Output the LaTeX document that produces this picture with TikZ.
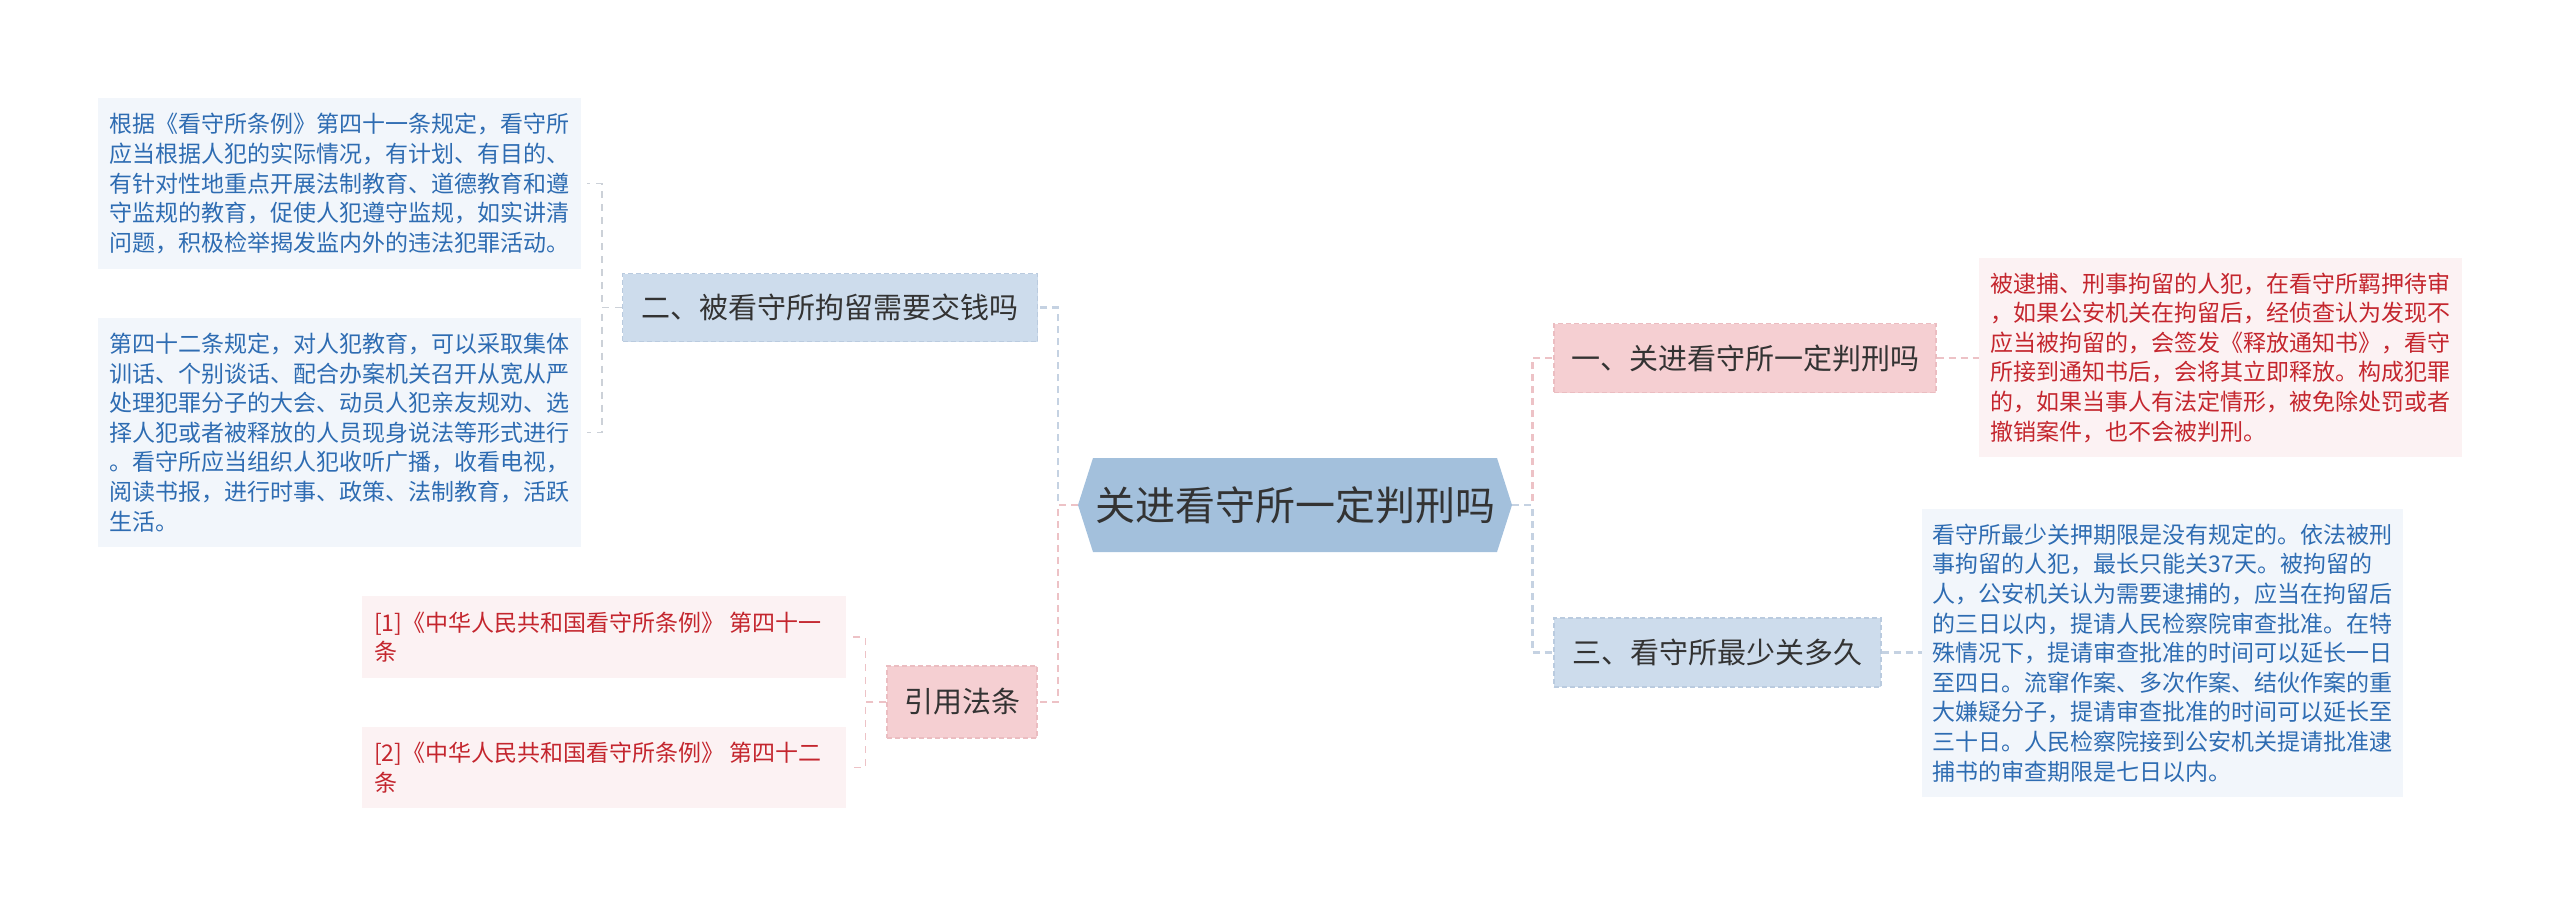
\documentclass[tikz,border=0pt]{standalone}
\usepackage{fontspec}
\setmainfont{Noto Sans CJK SC}
\definecolor{hexfill}{HTML}{A3C0DC}
\definecolor{bluefill}{HTML}{CDDCEC}
\definecolor{blueedge}{HTML}{BACBDF}
\definecolor{pinkfill}{HTML}{F5CFD2}
\definecolor{pinkedge}{HTML}{EBBDC1}
\definecolor{lbluefill}{HTML}{F2F6FB}
\definecolor{lpinkfill}{HTML}{FCF2F3}
\definecolor{bluetext}{HTML}{2E6CB2}
\definecolor{redtext}{HTML}{C4262E}
\definecolor{darktext}{HTML}{333333}
\definecolor{bluelink}{HTML}{C5D2E2}
\definecolor{pinklink}{HTML}{EDC2C6}
\definecolor{greylink}{HTML}{CCD1D8}
\tikzset{
  topic/.style={draw, dashed, dash pattern=on 5pt off 3pt, line width=1.2pt, inner sep=0pt, text=darktext, font=\fontsize{29}{34}\selectfont},
  bluetopic/.style={topic, fill=bluefill, draw=blueedge},
  pinktopic/.style={topic, fill=pinkfill, draw=pinkedge},
  leaf/.style={inner sep=0pt, align=left, font=\fontsize{23}{29.6}\selectfont},
  blueleaf/.style={leaf, fill=lbluefill, text=bluetext},
  pinkleaf/.style={leaf, fill=lpinkfill, text=redtext},
  link/.style={line width=2.6pt, dash pattern=on 7pt off 5pt},
  bluelinkst/.style={link, draw=bluelink},
  pinklinkst/.style={link, draw=pinklink},
  leaflink/.style={line width=1.6pt, dash pattern=on 7pt off 6pt},
  greylinkst/.style={leaflink, draw=greylink},
  pinkleaflinkst/.style={leaflink, draw=pinklink}
}
\begin{document}
\begin{tikzpicture}[x=1pt,y=-1pt]
\useasboundingbox (0,0) rectangle (2560,908);
% central hexagon
\fill[hexfill] (1078,505) -- (1093,458) -- (1497,458) -- (1512,505) -- (1497,552) -- (1093,552) -- cycle;
\node[minimum width=434pt, minimum height=94pt, inner sep=0pt, text=darktext, font=\fontsize{40}{46}\selectfont] (c) at (1295,505) {关进看守所一定判刑吗};

% level-1 topics
\node[bluetopic, minimum width=415pt, minimum height=68pt] (n2) at (830,307.5) {二、被看守所拘留需要交钱吗};
\node[pinktopic, minimum width=150pt, minimum height=72pt] (ref) at (962,702) {引用法条};
\node[pinktopic, minimum width=382pt, minimum height=69pt] (n1) at (1745,358) {一、关进看守所一定判刑吗};
\node[bluetopic, minimum width=327pt, minimum height=69pt] (n3) at (1717.5,652.5) {三、看守所最少关多久};

% leaves
\node[blueleaf, minimum width=483pt, minimum height=171pt] (l1) at (339.5,183.5) {根据《看守所条例》第四十一条规定，看守所\\应当根据人犯的实际情况，有计划、有目的、\\有针对性地重点开展法制教育、道德教育和遵\\守监规的教育，促使人犯遵守监规，如实讲清\\问题，积极检举揭发监内外的违法犯罪活动。};
\node[blueleaf, minimum width=483pt, minimum height=229pt] (l2) at (339.5,432.5) {第四十二条规定，对人犯教育，可以采取集体\\训话、个别谈话、配合办案机关召开从宽从严\\处理犯罪分子的大会、动员人犯亲友规劝、选\\择人犯或者被释放的人员现身说法等形式进行\\。看守所应当组织人犯收听广播，收看电视，\\阅读书报，进行时事、政策、法制教育，活跃\\生活。};
\node[pinkleaf, minimum width=484pt, minimum height=82pt] (r1) at (604,637) {[1]《中华人民共和国看守所条例》 第四十一\\条\hspace*{437pt}};
\node[pinkleaf, minimum width=484pt, minimum height=81pt] (r2) at (604,767.5) {[2]《中华人民共和国看守所条例》 第四十二\\条\hspace*{437pt}};
\node[pinkleaf, minimum width=483pt, minimum height=199pt] (a1) at (2220.5,357.5) {被逮捕、刑事拘留的人犯，在看守所羁押待审\\，如果公安机关在拘留后，经侦查认为发现不\\应当被拘留的，会签发《释放通知书》，看守\\所接到通知书后，会将其立即释放。构成犯罪\\的，如果当事人有法定情形，被免除处罚或者\\撤销案件，也不会被判刑。};
\node[blueleaf, minimum width=481pt, minimum height=288pt] (a3) at (2162.5,653) {看守所最少关押期限是没有规定的。依法被刑\\事拘留的人犯，最长只能关37天。被拘留的\\人，公安机关认为需要逮捕的，应当在拘留后\\的三日以内，提请人民检察院审查批准。在特\\殊情况下，提请审查批准的时间可以延长一日\\至四日。流窜作案、多次作案、结伙作案的重\\大嫌疑分子，提请审查批准的时间可以延长至\\三十日。人民检察院接到公安机关提请批准逮\\捕书的审查期限是七日以内。};

% connectors
\draw[bluelinkst] (c.west) -- ++(-20,0) |- (n2.east);
\draw[pinklinkst] (c.west) -- ++(-20,0) |- (ref.east);
\draw[pinklinkst] (c.east) -- ++(20,0) |- (n1.west);
\draw[bluelinkst] (c.east) -- ++(20,0) |- (n3.west);
\draw[greylinkst] (n2.west) -- ++(-20,0) |- ([xshift=6pt]l1.east);
\draw[greylinkst] (n2.west) -- ++(-20,0) |- ([xshift=6pt]l2.east);
\draw[pinkleaflinkst] (ref.west) -- ++(-21,0) |- ([xshift=6pt]r1.east);
\draw[pinkleaflinkst] (ref.west) -- ++(-21,0) |- ([xshift=6pt]r2.east);
\draw[pinklinkst] (n1.east) -- (n1.east -| a1.west);
\draw[bluelinkst] (n3.east) -- (n3.east -| a3.west);
\end{tikzpicture}
\end{document}
